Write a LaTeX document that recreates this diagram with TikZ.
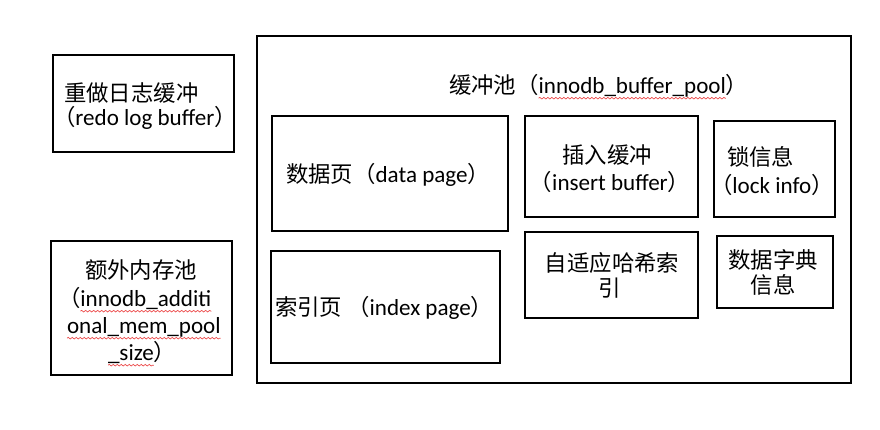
\documentclass[tikz,border=0pt]{standalone}
\usepackage{fontspec}
\setmainfont{Carlito}[Scale=1.03]
\newfontfamily\cjk{Noto Sans CJK SC}
\usetikzlibrary{fit,decorations.pathmorphing}
\definecolor{wavered}{RGB}{235,70,70}
\begin{document}
\begin{tikzpicture}[x=0.75pt,y=-0.75pt,
  box/.style={draw, line width=1.5pt, inner sep=0pt},
  txt/.style={font=\fontsize{16.8}{20}\selectfont, inner sep=0pt, outer sep=0pt},
  wave/.style={draw=wavered, line width=0.5pt, decorate, decoration={snake, amplitude=0.6pt, segment length=3pt}}]
\useasboundingbox (0,0) rectangle (880,429);
% boxes
\node[box, fit={(53,55)(234,152)}] (redo) {};
\node[box, fit={(51,241)(232,375)}] (mem) {};
\node[box, fit={(257,36)(851,383)}] (pool) {};
\node[box, fit={(272,116)(508,231)}] (data) {};
\node[box, fit={(271,251)(500,363)}] (index) {};
\node[box, fit={(525,116)(698,217)}] (ins) {};
\node[box, fit={(714,121)(835,217)}] (lock) {};
\node[box, fit={(525,232)(698,318)}] (hash) {};
\node[box, fit={(717,236)(833,308)}] (dict) {};
% texts
\node[txt, anchor=west] (redo1) at (64,93) {\cjk 重做日志缓冲};
\node[txt, anchor=west] (redo2) at (53,118) {{\cjk （}redo log buffer{\cjk ）}};
\node[txt, anchor=west] (titleA) at (449,85) {\cjk 缓冲池（};
\node[txt, anchor=base west] (titleB) at (titleA.base east) {innodb\_buffer\_pool};
\node[txt, anchor=base west] (titleC) at (titleB.base east) {\cjk ）};
\node[txt, anchor=west] (data1) at (286,175) {{\cjk 数据页（}data page{\cjk ）}};
\node[txt, anchor=west] (index1) at (275,308) {{\cjk 索引页 （}index page{\cjk ）}};
\node[txt] (ins1) at (607,155) {\cjk 插入缓冲};
\node[txt] (ins2) at (610,182) {{\cjk （}insert buffer{\cjk ）}};
\node[txt, anchor=west] (lock1) at (727,157) {\cjk 锁信息};
\node[txt, anchor=west] (lock2) at (710,185) {{\cjk （}lock info{\cjk ）}};
\node[txt] (hash1) at (612,263) {\cjk 自适应哈希索};
\node[txt] (hash2) at (610,288) {\cjk 引};
\node[txt] (dict1) at (773,260) {\cjk 数据字典};
\node[txt] (dict2) at (773,285) {\cjk 信息};
\node[txt] (mem1) at (141,270) {\cjk 额外内存池};
\node[txt, anchor=west] (mem2A) at (58,298) {\cjk （};
\node[txt, anchor=base west] (mem2B) at (mem2A.base east) {innodb\_additi};
\node[txt, anchor=base west] (mem3) at ([yshift=-20.25pt]mem2A.base west -| 67,0) {onal\_mem\_pool};
\node[txt, anchor=base west] (mem4A) at ([yshift=-20.25pt]mem3.base west -| 108,0) {\_size};
\node[txt, anchor=base west] (mem4B) at (mem4A.base east) {\cjk ）};
% spell-check waves
\draw[wave] ([yshift=-3.5pt]titleB.base west) -- ([yshift=-3.5pt]titleB.base east);
\draw[wave] ([yshift=-3.5pt]mem2B.base west) -- ([yshift=-3.5pt]mem2B.base east);
\draw[wave] ([yshift=-3.5pt]mem3.base west) -- ([yshift=-3.5pt]mem3.base east);
\draw[wave] ([yshift=-3.5pt]mem4A.base west) -- ([yshift=-3.5pt]mem4A.base east);
\end{tikzpicture}
\end{document}
